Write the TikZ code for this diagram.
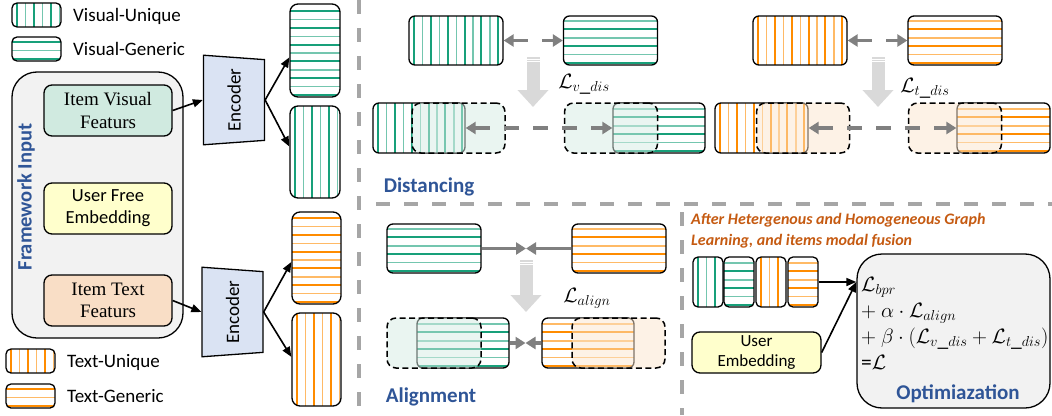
\documentclass[tikz,border=0pt]{standalone}
\usepackage{fontspec}
\setmainfont{Carlito}
\newfontfamily\timesfont{Liberation Serif}
\usetikzlibrary{shapes.geometric, arrows.meta}
\usepackage{xcolor}
\definecolor{featGreen}{RGB}{24, 160, 122}
\definecolor{featOrange}{RGB}{255, 140, 0}
\definecolor{mintFill}{RGB}{208, 234, 224}
\definecolor{creamFill}{RGB}{255, 255, 204}
\definecolor{peachFill}{RGB}{249, 222, 198}
\definecolor{panelGray}{RGB}{242, 242, 242}
\definecolor{encBlue}{RGB}{218, 227, 243}
\definecolor{titleBlue}{RGB}{47, 85, 151}
\definecolor{noteOrange}{RGB}{197, 90, 17}
\definecolor{sepGray}{RGB}{166, 166, 166}
\definecolor{arrowGray}{RGB}{128, 128, 128}
\definecolor{flowGray}{RGB}{217, 217, 217}
\definecolor{ghostGreen}{RGB}{214, 236, 228}
\definecolor{ghostOrange}{RGB}{252, 230, 205}

\begin{document}
\begin{tikzpicture}
    [
        x=1pt, y=-1pt,
        feat/.style={
            draw, line width=1.3pt, rounded corners=6pt, inner sep=0pt,
            minimum width=94pt, minimum height=49pt
        },
        vbars/.style={path picture={
            \foreach \k in {0,...,13} {
                \draw [#1, line width=2.1pt]
                    ([xshift=5.2pt+\k*16.8pt]path picture bounding box.south west) --
                    ([xshift=5.2pt+\k*16.8pt]path picture bounding box.north west);
                \draw [#1!60, line width=1.4pt]
                    ([xshift=13.6pt+\k*16.8pt]path picture bounding box.south west) --
                    ([xshift=13.6pt+\k*16.8pt]path picture bounding box.north west);
            }}
        },
        hbars/.style={path picture={
            \foreach \k in {0,...,13} {
                \draw [#1, line width=2.1pt]
                    ([yshift=2pt+\k*16.8pt]path picture bounding box.south west) --
                    ([yshift=2pt+\k*16.8pt]path picture bounding box.south east);
                \draw [#1!60, line width=1.4pt]
                    ([yshift=10.4pt+\k*16.8pt]path picture bounding box.south west) --
                    ([yshift=10.4pt+\k*16.8pt]path picture bounding box.south east);
            }}
        },
        ghost/.style={
            draw, line width=1.5pt, dash pattern=on 6pt off 3.5pt, rounded corners=9pt,
            inner sep=0pt, minimum width=93pt, minimum height=50pt,
            fill=#1, fill opacity=0.5
        },
        item/.style={
            draw, line width=1.3pt, rounded corners=8pt, align=center, inner sep=0pt,
            minimum width=128pt, minimum height=51pt, font=\fontsize{18.5}{22}\selectfont
        },
        enc/.style={
            trapezium, trapezium left angle=104.5, trapezium right angle=104.5,
            trapezium stretches=true, minimum width=90pt, minimum height=61pt,
            draw, line width=1.3pt, fill=encBlue, rotate=90, inner sep=0pt,
            font=\fontsize{19}{22}\selectfont
        },
        legend/.style={anchor=west, inner sep=0pt, font=\fontsize{19}{22}\selectfont},
        section/.style={inner sep=0pt, text=titleBlue, font=\bfseries\fontsize{21}{24}\selectfont},
        loss/.style={inner sep=0pt, font=\fontsize{21}{25}\selectfont},
        term/.style={inner sep=0pt, anchor=base west, font=\fontsize{21.5}{25}\selectfont},
        link/.style={-{Triangle[length=10pt, width=8pt]}, line width=1.6pt},
        apart/.style={
            {Triangle[length=10pt, width=12pt]}-{Triangle[length=10pt, width=12pt]},
            line width=3.5pt, draw=arrowGray, dash pattern=on 15pt off 14pt
        },
        pull/.style={-{Triangle[length=10pt, width=12pt]}, line width=3.5pt, draw=arrowGray},
        flow/.style={
            -{Triangle[length=17pt, width=30pt]}, line width=13pt, draw=flowGray,
            dash pattern=on 1.5pt off 1pt on 1.5pt off 1pt on 200pt
        },
        sep/.style={line width=3.5pt, draw=sepGray, dash pattern=on 14pt off 14pt}
    ]
\useasboundingbox (0,0) rectangle (1052,415);

% Legend
\node (legVU) [feat, vbars=featGreen, minimum width=49pt, minimum height=24pt, rounded corners=5pt] at (36.5,15) {};
\node (legVUtxt) [legend] at (73,16) {Visual-Unique};
\node (legVG) [feat, hbars=featGreen, minimum width=49pt, minimum height=24pt, rounded corners=5pt] at (36.5,49) {};
\node (legVGtxt) [legend] at (73,49) {Visual-Generic};
\node (legTU) [feat, vbars=featOrange, minimum width=49pt, minimum height=24pt, rounded corners=5pt] at (30.5,361) {};
\node (legTUtxt) [legend] at (67,362) {Text-Unique};
\node (legTG) [feat, hbars=featOrange, minimum width=49pt, minimum height=24pt, rounded corners=5pt] at (30.5,396) {};
\node (legTGtxt) [legend] at (67,396) {Text-Generic};

% Framework input
\node (frame) [draw, line width=1.3pt, rounded corners=25pt, fill=panelGray,
    minimum width=171pt, minimum height=266pt] at (97.5,205) {};
\node (frameTitle) [section, rotate=90, font=\bfseries\fontsize{20.5}{24}\selectfont] at (26,197) {Framework Input};
\node (itemVis) [item, fill=mintFill, font=\timesfont\fontsize{19}{22}\selectfont] at (108,110.5) {Item Visual\\Featurs};
\node (userFree) [item, fill=creamFill] at (108,208.5) {User Free\\Embedding};
\node (itemTxt) [item, fill=peachFill, font=\timesfont\fontsize{19}{22}\selectfont] at (108,300.5) {Item Text\\Featurs};

% Encoders
\node (enc1) [enc] at (234,100) {Encoder};
\node (enc2) [enc] at (232.5,312) {Encoder};
\node (visGen) [feat, hbars=featGreen, minimum width=50pt, minimum height=93pt, rounded corners=8pt] at (315,50.5) {};
\node (visUni) [feat, vbars=featGreen, minimum width=50pt, minimum height=92pt, rounded corners=8pt] at (315,152) {};
\node (txtGen) [feat, hbars=featOrange, minimum width=49pt, minimum height=92pt, rounded corners=8pt] at (316.5,258) {};
\node (txtUni) [feat, vbars=featOrange, minimum width=49pt, minimum height=93pt, rounded corners=8pt] at (316.5,359.5) {};

\draw [link] (itemVis.east) -- (enc1.north);
\draw [link] (enc1.south) -- (visGen.195);
\draw [link] (enc1.south) -- (visUni.168);
\draw [link] (itemTxt.east) -- (enc2.north);
\draw [link] (enc2.south) -- (txtGen.189);
\draw [link] (enc2.south) -- (txtUni.174);

% Separators
\draw [sep] (359,0) -- (359,415);
\draw [sep] (376,204) -- (1052,204);
\draw [sep] (682,212) -- (682,415);

% Distancing, visual
\node (vU) [feat, vbars=featGreen] at (456,40.5) {};
\node (vG) [feat, hbars=featGreen] at (610.5,40.5) {};
\draw [apart] (vU) -- (vG);
\draw [flow] (533,57) -- (533,107);
\node (vLoss) [loss] at (584,84) {$\mathcal{L}_{v\_dis}$};
\node (vU2) [feat, vbars=featGreen, minimum width=92pt, minimum height=50pt] at (419,128) {};
\node (vU2g) [ghost=ghostGreen] at (458.5,128) {};
\node (vG2) [feat, hbars=featGreen, minimum width=92pt, minimum height=50pt] at (659,128) {};
\node (vG2g) [ghost=ghostGreen] at (611,128) {};
\draw [apart] (vU2.east) -- (vG2.west);
\node (distTitle) [section] at (429,187) {Distancing};

% Distancing, text
\node (tU) [feat, vbars=featOrange] at (800,40.5) {};
\node (tG) [feat, hbars=featOrange] at (955,40.5) {};
\draw [apart] (tU) -- (tG);
\draw [flow] (878,57) -- (878,107);
\node (tLoss) [loss] at (925,88) {$\mathcal{L}_{t\_dis}$};
\node (tU2) [feat, vbars=featOrange, minimum width=93pt, minimum height=50pt] at (761.5,128) {};
\node (tU2g) [ghost=ghostOrange] at (803,128) {};
\node (tG2) [feat, hbars=featOrange, minimum width=93pt, minimum height=50pt] at (1003.5,128) {};
\node (tG2g) [ghost=ghostOrange] at (955,128) {};
\draw [apart] (tU2.east) -- (tG2.west);

% Alignment
\node (aV) [feat, hbars=featGreen] at (434,248.5) {};
\node (aT) [feat, hbars=featOrange] at (619,248.5) {};
\coordinate (aMid) at (526,248.5);
\draw [pull] (aV) -- (aMid);
\draw [pull] (aT) -- (aMid);
\draw [flow] (526,260) -- (526,312);
\node (aLoss) [loss] at (587,298) {$\mathcal{L}_{align}$};
\node (aV2) [feat, hbars=featGreen, minimum width=92pt, minimum height=50pt] at (463,343) {};
\node (aV2g) [ghost=ghostGreen, minimum width=94pt] at (434,343) {};
\node (aT2) [feat, hbars=featOrange, minimum width=92pt, minimum height=50pt] at (588,343) {};
\node (aT2g) [ghost=ghostOrange] at (618.5,343) {};
\coordinate (aMid2) at (525.5,343);
\draw [pull] (aV2.east) -- (aMid2);
\draw [pull] (aT2.west) -- (aMid2);
\node (alignTitle) [section] at (431,397) {Alignment};

% Optimization
\node (fuseNote) [anchor=west, align=left, inner sep=0pt, text=noteOrange,
    font=\bfseries\itshape\fontsize{16}{21}\selectfont] at (691,231)
    {After Hetergenous and Homogeneous Graph\\Learning, and items modal fusion};
\node (fuse1) [feat, vbars=featGreen, minimum width=30pt, minimum height=50pt, rounded corners=5pt] at (708,282) {};
\node (fuse2) [feat, hbars=featGreen, minimum width=30pt, minimum height=50pt, rounded corners=5pt] at (739,282) {};
\node (fuse3) [feat, vbars=featOrange, minimum width=30pt, minimum height=50pt, rounded corners=5pt] at (771,282) {};
\node (fuse4) [feat, hbars=featOrange, minimum width=30pt, minimum height=50pt, rounded corners=5pt] at (803,282) {};
\node (userEmb) [item, fill=creamFill, minimum width=129pt, minimum height=41pt,
    font=\fontsize{17}{20}\selectfont] at (756.5,352.5) {User\\Embedding};
\node (opt) [draw, line width=1.3pt, rounded corners=25pt, fill=panelGray,
    minimum width=193pt, minimum height=154pt] at (953.5,331) {};
\coordinate (optIn) at (opt.west |- fuse4.east);
\draw [link] (fuse4.east) -- (optIn);
\draw [link] (userEmb.east) -- (optIn);
\node (lossBpr) [term] at (861,291) {$\mathcal{L}_{bpr}$};
\node (lossAlign) [term] at (861,317) {$+\ \alpha\cdot\mathcal{L}_{align}$};
\node (lossDis) [term] at (861,343.5) {$+\ \beta\cdot(\mathcal{L}_{v\_dis}+\mathcal{L}_{t\_dis})$};
\node (lossAll) [term] at (861,369) {=$\mathcal{L}$};
\node (optTitle) [section] at (958,394) {Optimiazation};

\end{tikzpicture}
\end{document}
